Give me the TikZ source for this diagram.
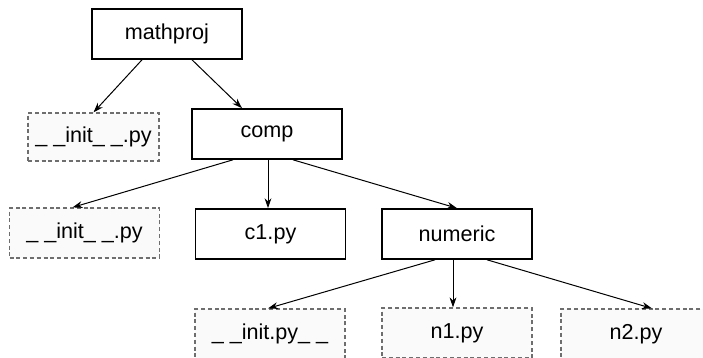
\documentclass[tikz,border=0pt]{standalone}
\usepackage{fontspec}
\setmainfont{Liberation Sans}
\usepackage{tikz}
\usetikzlibrary{arrows.meta, positioning, calc}
\definecolor{BoxGray}{RGB}{110,110,110}

\begin{document}
\begin{tikzpicture}[x=0.5pt, y=-0.5pt, font=\fontsize{10.8}{13}\selectfont,
	pkg/.style={draw, line width=0.8pt, minimum width=75pt, minimum height=25pt, inner sep=0pt},
	mod/.style={draw=BoxGray, dash pattern=on 2pt off 1.4pt, line width=0.6pt, fill=black!2,
		minimum width=75pt, minimum height=25pt, inner sep=0pt},
	fl/.style={-{Stealth[length=5pt, width=3.4pt]}, line width=0.5pt}]
	\clip (0,0) rectangle (703,358);
	% package tree
	\node[pkg] (mathproj) at (167,34) {mathproj};
	\node[mod, minimum width=65.5pt, minimum height=24pt] (init1) at (93.5,137) {\_ \_init\_ \_.py};
	\node[pkg] (comp) at (267,134) {comp};
	\node[mod] (init2) at (84.5,233) {\_ \_init\_ \_.py};
	\node[pkg] (c1) at (270.5,234) {c1.py};
	\node[pkg] (numeric) at (457,234) {numeric};
	\node[mod] (init3) at (270,334) {\_ \_init.py\_ \_};
	\node[mod] (n1) at (457,333) {n1.py};
	\node[mod] (n2) at (636,334) {n2.py};
	% arrows
	\draw[fl] ([xshift=-12.5pt]mathproj.south) -- (init1.north);
	\draw[fl] ([xshift=12.5pt]mathproj.south) -- ([xshift=-12.5pt]comp.north);
	\draw[fl] ([xshift=-17pt]comp.south) -- ([xshift=-6pt]init2.north);
	\draw[fl] ([xshift=0.5pt]comp.south) -- ([xshift=0.5pt]comp.south |- c1.north);
	\draw[fl] ([xshift=13pt]comp.south) -- (numeric.north);
	\draw[fl] ([xshift=-11pt]numeric.south) -- ([xshift=-1pt]init3.north);
	\draw[fl] ([xshift=-2pt]numeric.south) -- ([xshift=-2pt]n1.north);
	\draw[fl] ([xshift=15pt]numeric.south) -- ([xshift=8pt]n2.north);
\end{tikzpicture}
\end{document}
